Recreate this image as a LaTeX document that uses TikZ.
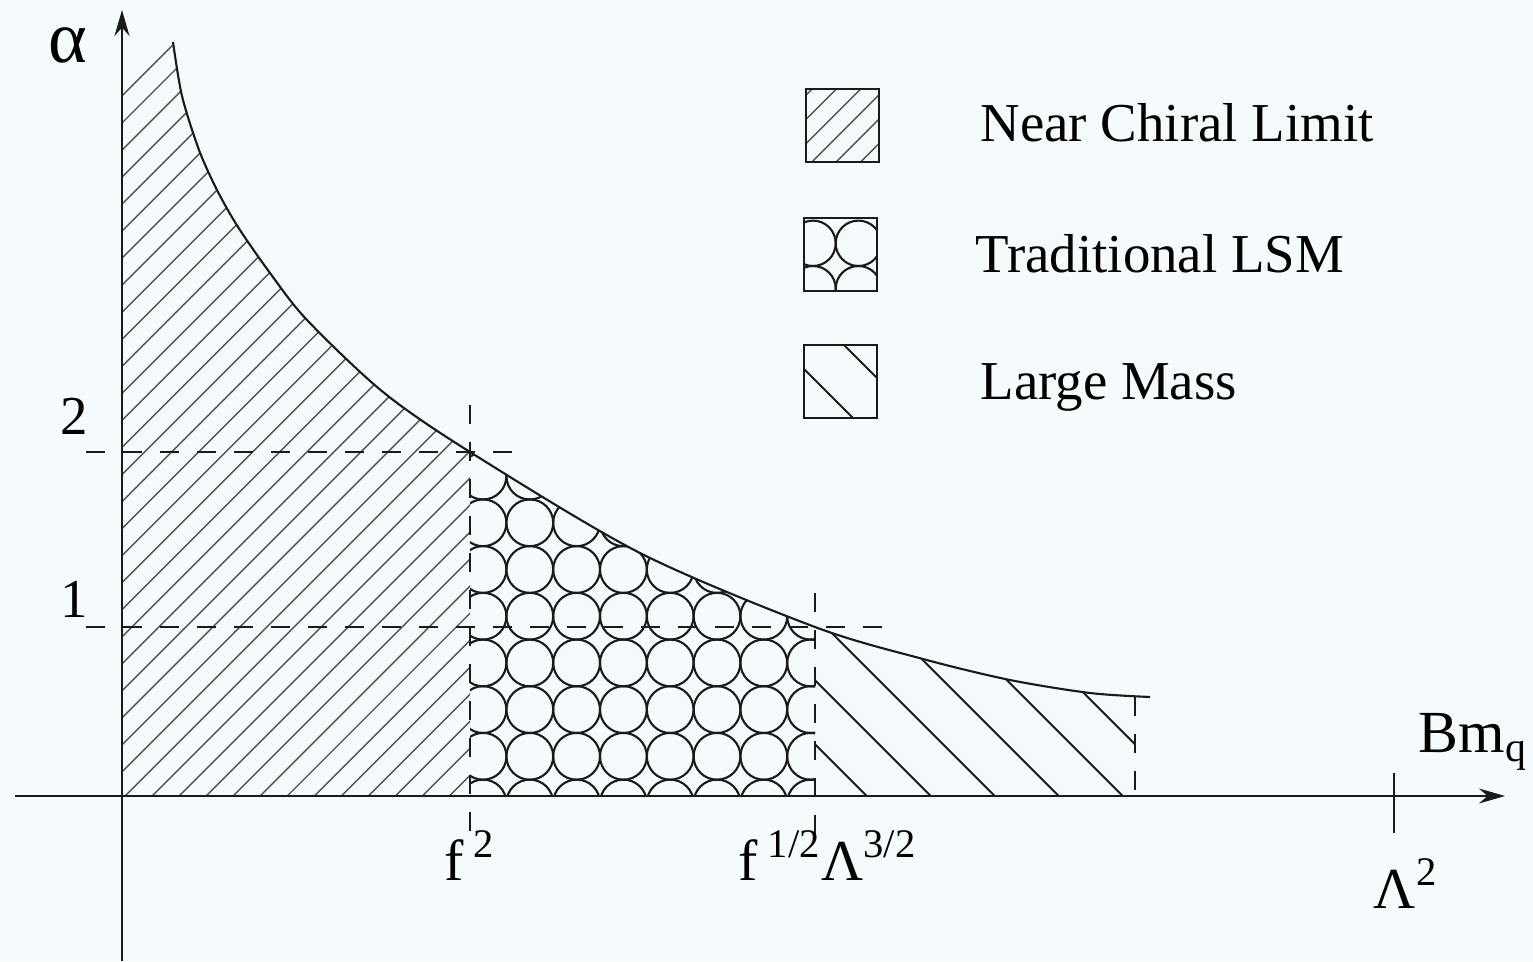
\documentclass[tikz,border=0pt]{standalone}
\usepackage{fontspec}
\setmainfont{Liberation Serif}
\usetikzlibrary{arrows.meta}
\definecolor{bgc}{HTML}{F5FAFC}
\definecolor{inkc}{HTML}{1A1A1A}
\definecolor{hatchc}{HTML}{505050}

\begin{document}
\begin{tikzpicture}[
  >={Stealth[length=2.6mm,width=1.5mm]},
  axisline/.style={line width=0.6pt, draw=inkc},
  guide/.style={line width=0.55pt, draw=inkc, dash pattern=on 1.85mm off 1.85mm},
  hatch/.style={line width=0.4pt, draw=hatchc},
  bubble/.style={line width=0.6pt, draw=inkc},
  lmline/.style={line width=0.55pt, draw=inkc},
  keybox/.style={line width=0.6pt, draw=inkc},
  lbl/.style={inner sep=0pt, font=\fontsize{15.6}{18}\selectfont},
  big/.style={inner sep=0pt, font=\fontsize{16.5}{19}\selectfont},
]
% --- frame ---
\fill[bgc] (-1.22,-1.65) rectangle (14.11,7.96);
\useasboundingbox (-1.22,-1.65) rectangle (14.11,7.96);
% --- marks on the axes ---
\def\xa{3.48}  % f^2
\def\xb{6.93}  % f^{1/2} Lambda^{3/2}
\def\xc{10.13} % end of the large mass band
\def\xL{12.72} % Lambda^2
\def\ya{3.44}  % alpha = 2
\def\yb{1.69}  % alpha = 1
% boundary curve and the region below it
\def\curvepts{(0.51,7.54) (0.60,7.00) (0.77,6.46) (0.95,6.06) (1.16,5.69)
  (1.48,5.23) (1.85,4.76) (2.61,4.04) (3.48,3.44) (5.18,2.43) (6.93,1.69)
  (8.01,1.37) (8.88,1.16) (9.68,1.03) (10.28,0.99)}
\edef\curvepath{plot[smooth] coordinates {\curvepts}}
\edef\undercurve{(0,0) -- (0,7.54) -- plot[smooth] coordinates {\curvepts} -- (10.28,0) -- cycle}
% near chiral limit: hatch
\begin{scope}
  \clip (0,0) rectangle (\xa,7.6);
  \clip \undercurve;
  \foreach \i in {-13,...,26}
    \draw[hatch] (-1,{-1.03+0.2704*\i}) -- ++(9,9);
\end{scope}
% traditional LSM: circles
\begin{scope}
  \clip (\xa,0) rectangle (\xb,4);
  \clip \undercurve;
  \foreach \i in {-1,...,7}
    \foreach \j in {0,...,7}
      \draw[bubble] ({3.61+0.468*\i},{-0.07+0.467*\j}) circle (0.234);
\end{scope}
% large mass: wide back hatch
\begin{scope}
  \clip (\xb,0) rectangle (\xc,2);
  \clip \undercurve;
  \foreach \i in {0,...,5}
    \draw[lmline] ({7.447+0.64*\i},0) -- ++(-3,3);
\end{scope}
\draw[axisline] \curvepath;
% --- dashed guides ---
\coordinate (a2l) at (-0.36,\ya);  \coordinate (a2r) at (3.98,\ya);
\coordinate (a1l) at (-0.36,\yb);  \coordinate (a1r) at (7.73,\yb);
\coordinate (fat) at (\xa,3.91);   \coordinate (fab) at (\xa,-0.44);
\coordinate (fbt) at (\xb,2.03);   \coordinate (fbb) at (\xb,-0.44);
\coordinate (fct) at (\xc,0.99);   \coordinate (fcb) at (\xc,0);
\draw[guide] (a2l) -- (a2r);
\draw[guide] (a1l) -- (a1r);
\draw[guide] (fat) -- (fab);
\draw[guide] (fbt) -- (fbb);
\draw[guide] (fct) -- (fcb);
% --- axes ---
\coordinate (ybot) at (0,-1.65);  \coordinate (ytop) at (0,7.86);
\coordinate (xlft) at (-1.07,0);  \coordinate (xrgt) at (13.83,0);
\draw[axisline,->] (ybot) -- (ytop);
\draw[axisline,->] (xlft) -- (xrgt);
\draw[axisline] (\xL,-0.37) -- (\xL,0.23);
% --- axis labels ---
\node[inner sep=0pt, font=\fontsize{21}{24}\selectfont] (alpha) at (-0.54,7.51) {α};
\node[lbl, anchor=base east] (two) at (-0.33,3.62) {2};
\node[lbl, anchor=base east] (one) at (-0.33,1.79) {1};
\node[big, anchor=base] (fsq) at (3.48,-0.84) {f\,\textsuperscript{2}};
\node[big, anchor=base] (fmix) at (7.06,-0.84) {f\,\textsuperscript{1/2}Λ\textsuperscript{3/2}};
\node[big, anchor=base] (lsq) at (12.84,-1.12) {Λ\textsuperscript{2}};
\node[big, anchor=base west, font=\fontsize{17}{20}\selectfont] (bmq) at (12.96,0.44) {Bm\textsubscript{q}};
% --- legend ---
\begin{scope}
  \clip (6.84,6.34) rectangle ++(0.73,0.73);
  \foreach \i in {0,...,6}
    \draw[hatch] (5.84,{6.01-0.243*\i}) -- ++(3,3);
\end{scope}
\draw[keybox] (6.84,6.34) rectangle ++(0.73,0.73);
\begin{scope}
  \clip (6.82,5.05) rectangle ++(0.73,0.73);
  \foreach \i in {0,1}
    \foreach \j in {0,1}
      \draw[bubble] ({6.91+0.454*\i},{5.073+0.454*\j}) circle (0.227);
\end{scope}
\draw[keybox] (6.82,5.05) rectangle ++(0.73,0.73);
\begin{scope}
  \clip (6.82,3.78) rectangle ++(0.73,0.73);
  \foreach \s in {11.09,11.73}
    \draw[lmline] (6.5,{\s-6.5}) -- ++(1.5,-1.5);
\end{scope}
\draw[keybox] (6.82,3.78) rectangle ++(0.73,0.73);
\node[lbl, anchor=base west] (knear) at (8.58,6.54) {Near Chiral Limit};
\node[lbl, anchor=base west] (ktrad) at (8.53,5.23) {Traditional LSM};
\node[lbl, anchor=base west] (kmass) at (8.58,3.96) {Large Mass};
\end{tikzpicture}
\end{document}
